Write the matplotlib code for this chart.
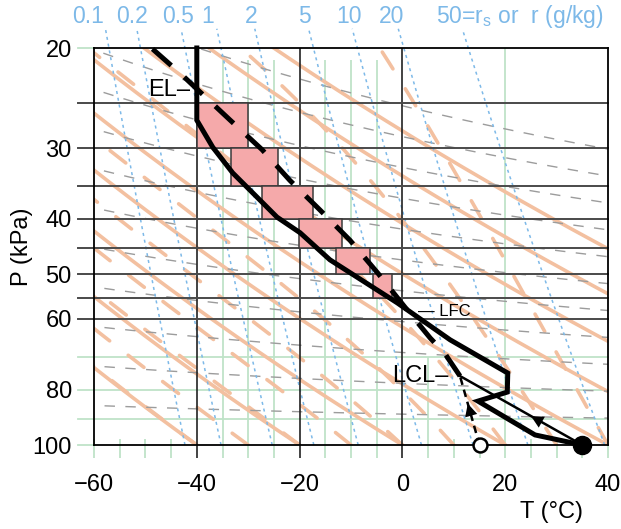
import numpy as np
import matplotlib
matplotlib.use('Agg')
import matplotlib.pyplot as plt
from matplotlib.patches import Rectangle

plt.rcParams['font.family'] = ['Liberation Sans', 'DejaVu Sans']
plt.rcParams['mathtext.default'] = 'regular'

# ---- sounding (T in degC, P in kPa)
env_t = [35.0, 25.8, 14.7, 20.4, 20.5, 9.3, -1.0, -14.1, -19.9, -24.4, -28.3, -33.0, -36.9, -40.0, -40.0]
env_p = [100.0, 96.0, 83.7, 80.7, 74.7, 65.3, 56.2, 47.2, 42.3, 39.7, 36.6, 33.2, 29.9, 26.8, 20.0]

# parcel from the LCL up (thick dashed)
parcel_t = [11.2, 8.2, 5.4, 0.5, -4.8, -10.2, -16.0, -21.9, -27.3, -33.5, -39.8, -42.9, -49.1]
parcel_p = [75.6, 68.9, 64.8, 57.2, 49.8, 43.6, 38.6, 34.2, 30.2, 26.8, 23.7, 22.3, 19.9]

sfc_p, sfc_t, sfc_td = 100.0, 35.0, 15.0
lcl_t, lcl_p = 11.2, 75.6
lfc_t, lfc_p = 0.0, 57.0
el_t, el_p = -40.0, 23.7

# CAPE boxes
cape_p_bot = [30, 35, 40, 45, 50, 55]
cape_p_top = [25, 30, 35, 40, 45, 50]
cape_t_env = [-40.0, -33.3, -27.3, -20.1, -12.9, -5.7]
cape_t_par = [-30.0, -24.2, -17.4, -11.8, -6.4, -2.0]

# ---- background diagram lines
theta_dry = [-40, -20, 0, 20, 40, 60, 80, 100, 120]
theta_w = [-40, -30, -20, -10, 0, 10, 20, 30, 40]
r_mix = [0.1, 0.2, 0.5, 1, 2, 5, 10, 20, 50]
r_labels = ['0.1', '0.2', '0.5', '1', '2', '5', '10', '20', '50=r$_s$ or  r (g/kg)']
r_label_dx = [-12.8, -3.4, -2.2, -6.7, -2.9, -3.3, -2.2, -4.9, -19]  # points, label shift
z_km = [1, 2, 3, 4, 5, 6, 7, 8, 9, 10, 11]
iso_black = [-40, -20, 0]
iso_green_upper = [-35, -30, -25, -15, -10, -5]
iso_green_full = [20]
iso_green_lower = [5]
iso_ticks = [-60, -55, -50, -45, 10, 15, 25, 30, 35, 40]
p_black = [25, 30, 35, 40, 45, 50, 55, 60]
p_green = [70, 80, 90]
p_ticks = [20, 100]

ORANGE = '#f3c0a0'
GREEN = '#bfe3c8'
BLUE = '#7db9e8'
GRAY = '#9c9c9c'


def es(tk):
    return 0.611 * np.exp(5423.0 * (1 / 273.15 - 1 / tk))


def moist_lapse(tk, p):
    rs = 0.622 * es(tk) / (p - es(tk))
    return (287.0 * tk + 2.5e6 * rs) / (1004.0 + 2.5e6 ** 2 * rs * 0.622 / (287.0 * tk ** 2))


fig = plt.figure(figsize=(6.21, 5.29), dpi=100)
ax = fig.add_axes([94 / 621, 1 - 445 / 529, 514 / 621, 397 / 529])
ax.set_yscale('log')
ax.set_xlim(-60, 40)
ax.set_ylim(100, 20)

pp = np.geomspace(100, 18, 300)
tt = np.linspace(-62, 42, 200)

for th in theta_dry:
    ax.plot((th + 273.15) * (pp / 100) ** 0.286 - 273.15, pp, color=ORANGE, lw=2.6, zorder=2,
            solid_capstyle='round')

for tw in theta_w:
    tk = [tw + 273.15]
    for i in range(1, len(pp)):
        dl = np.log(pp[i] / pp[i - 1])
        k1 = moist_lapse(tk[-1], pp[i - 1])
        k2 = moist_lapse(tk[-1] + 0.5 * dl * k1, np.sqrt(pp[i] * pp[i - 1]))
        tk.append(tk[-1] + dl * k2)
    ax.plot(np.array(tk) - 273.15, pp, color=ORANGE, lw=2.6, zorder=2,
            dashes=(5.5, 6.5), dash_capstyle='round')

for z in z_km:
    ax.plot(tt, 100 * np.exp(-9.8 * z * 1000 / (287.0 * (tt + 273.15))), color=GRAY,
            lw=1.0, dashes=(7.5, 7.5), zorder=2.5)

pm = np.geomspace(100, 18.5, 200)
for r, lab, dx in zip(r_mix, r_labels, r_label_dx):
    e = r / 1000 * pm / (0.622 + r / 1000)
    td = 1 / (1 / 273.15 - np.log(e / 0.611) / 5423.0) - 273.15
    ax.plot(td, pm, color=BLUE, lw=1.1, dashes=(2, 2.5), zorder=3, clip_on=False)
    ax.annotate(lab, (td[-1], pm[-1]), xytext=(dx, 9), textcoords='offset points',
                ha='left' if lab.startswith('50') else 'center', va='center',
                color=BLUE, fontsize=16.5, annotation_clip=False)

# isotherms and isobars, sticking out of the frame as ticks
ax.vlines(iso_green_upper, 21, 105.4, color=GREEN, lw=1.3, zorder=1, clip_on=False)
ax.vlines(iso_green_full, 20, 105.4, color=GREEN, lw=1.3, zorder=1, clip_on=False)
ax.vlines(iso_green_lower, 70, 105.4, color=GREEN, lw=1.3, zorder=1, clip_on=False)
ax.vlines(iso_ticks, 97.5, 105.4, color=GREEN, lw=1.3, zorder=1, clip_on=False)
ax.vlines(iso_black, 20, 105.4, color='#222222', lw=1.2, zorder=3.5, clip_on=False)
for p in p_green:
    ax.axhline(p, xmin=-0.031, xmax=1, color=GREEN, lw=1.3, zorder=1, clip_on=False)
for p in p_ticks:
    ax.axhline(p, xmin=-0.031, xmax=0, color=GREEN, lw=1.3, zorder=1, clip_on=False)
for p in p_black:
    ax.axhline(p, xmin=-0.031, xmax=1, color='#4a4a4a', lw=1.4, zorder=3.5, clip_on=False)

# CAPE boxes
for pb, ptop, te, tp in zip(cape_p_bot, cape_p_top, cape_t_env, cape_t_par):
    ax.add_patch(Rectangle((te, ptop), tp - te, pb - ptop, facecolor='#f5a9aa',
                           edgecolor='#3a3a3a', lw=1.1, zorder=4))

# sounding and parcel
ax.plot(env_t, env_p, color='k', lw=3.6, zorder=6, solid_joinstyle='miter', clip_on=False)
ax.plot(parcel_t, parcel_p, color='k', lw=3.6, zorder=6, dashes=(5, 3.5), clip_on=False)

# dry rise to LCL and dew point path
ax.plot([sfc_t, lcl_t], [sfc_p, lcl_p], color='k', lw=1.8, zorder=6)
ax.plot([sfc_td, lcl_t], [sfc_p, lcl_p], color='k', lw=1.8, dashes=(3, 2), zorder=6)
for t0, f_tip in [(sfc_t, 0.42), (sfc_td, 0.6)]:
    tip_t = t0 + f_tip * (lcl_t - t0)
    tip_p = sfc_p * (lcl_p / sfc_p) ** f_tip
    tail_t = t0 + (f_tip - 0.15) * (lcl_t - t0)
    tail_p = sfc_p * (lcl_p / sfc_p) ** (f_tip - 0.15)
    ax.annotate('', xy=(tip_t, tip_p), xytext=(tail_t, tail_p),
                arrowprops=dict(arrowstyle='-|>,head_length=0.9,head_width=0.45', color='k',
                                lw=0, shrinkA=0, shrinkB=0), zorder=7)

ax.plot([sfc_t], [sfc_p], 'o', color='k', ms=13, zorder=8, clip_on=False)
ax.plot([sfc_td], [sfc_p], 'o', mfc='white', mec='k', mew=1.8, ms=10, zorder=8, clip_on=False)

ax.annotate('EL–', (el_t, el_p), xytext=(-5, 0), textcoords='offset points',
            ha='right', va='center', fontsize=17, zorder=9)
ax.annotate('LCL–', (lcl_t, lcl_p), xytext=(-8, 0), textcoords='offset points',
            ha='right', va='center', fontsize=17, zorder=9)
ax.annotate('— LFC', (lfc_t, lfc_p), xytext=(11, -4), textcoords='offset points',
            ha='left', va='center', fontsize=12, zorder=9)

# axes
ax.set_xticks([-60, -40, -20, 0, 20, 40])
ax.set_xticklabels(['−60', '−40', '−20', '0', '20', '40'])
ax.set_yticks([20, 30, 40, 50, 60, 80, 100])
ax.set_yticklabels(['20', '30', '40', '50', '60', '80', '100'])
ax.minorticks_off()
ax.tick_params(axis='x', length=0, pad=21, labelsize=17)
ax.tick_params(axis='y', length=0, pad=16, labelsize=17)
for s in ax.spines.values():
    s.set_linewidth(1.3)
    s.set_zorder(5)

ax.set_ylabel('P (kPa)', fontsize=17)
ax.yaxis.set_label_coords(-0.118, 0.5)
ax.text(0.891, -0.169, 'T (°C)', transform=ax.transAxes, ha='center', va='center', fontsize=17)

fig.savefig('out.png', dpi=100)
